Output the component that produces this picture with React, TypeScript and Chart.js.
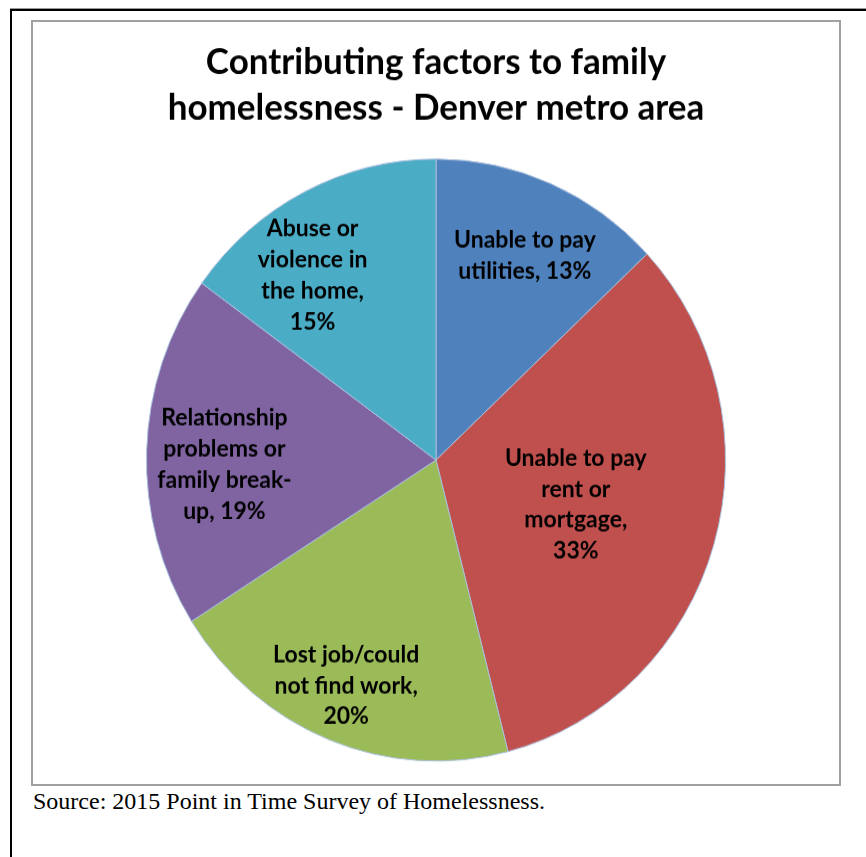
import { useEffect, useRef } from 'react';
import { Chart, registerables } from 'chart.js';

Chart.register(...registerables);

// ---- data ----
const titleLines = ['Contributing factors to family', 'homelessness - Denver metro area'];
const categories = [
  'Unable to pay utilities',
  'Unable to pay rent or mortgage',
  'Lost job/could not find work',
  'Relationship problems or family break-up',
  'Abuse or violence in the home',
];
const values = [13, 33, 20, 19, 15];
const labelLines = [
  ['Unable to pay', 'utilities, {v}%'],
  ['Unable to pay', 'rent or', 'mortgage,', '{v}%'],
  ['Lost job/could', 'not find work,', '{v}%'],
  ['Relationship', 'problems or', 'family break-', 'up, {v}%'],
  ['Abuse or', 'violence in', 'the home,', '{v}%'],
];
const sliceColors = ['#4F81BD', '#C0504D', '#9BBB59', '#8064A2', '#4BACC6'];
const sourceNote = 'Source: 2015 Point in Time Survey of Homelessness.';

// ---- label placement (fraction of radius, angular shift in degrees) ----
const labelRadius = [0.746, 0.505, 0.811, 0.731, 0.747];
const labelShift = [0.9, 0.8, 0.9, -3, -7.8];
const LABEL_FONT = 23;
const LABEL_LINE = 29.8;
const STRETCH_Y = 1.0397;

const pieLabels = {
  id: 'pieLabels',
  afterDatasetsDraw(chart: any) {
    const ctx = chart.ctx as CanvasRenderingContext2D;
    const meta = chart.getDatasetMeta(0);
    ctx.save();
    ctx.font = `bold ${LABEL_FONT}px Lato`;
    ctx.fillStyle = '#000';
    ctx.textAlign = 'center';
    ctx.textBaseline = 'middle';
    meta.data.forEach((arc: any, i: number) => {
      const { x, y, startAngle, endAngle, outerRadius } = arc.getProps(
        ['x', 'y', 'startAngle', 'endAngle', 'outerRadius'],
        true
      );
      const a = (startAngle + endAngle) / 2 + (labelShift[i] * Math.PI) / 180;
      const r = outerRadius * labelRadius[i];
      const cx = x + Math.cos(a) * r;
      const cy = y + Math.sin(a) * r;
      const lines = labelLines[i].map((l) => l.replace('{v}', String(values[i])));
      lines.forEach((l, j) => {
        ctx.fillText(l, cx, cy + (j - (lines.length - 1) / 2) * LABEL_LINE);
      });
    });
    ctx.restore();
  },
};

export default function App() {
  const canvasRef = useRef<HTMLCanvasElement | null>(null);

  useEffect(() => {
    if (!canvasRef.current) return;
    const chart = new Chart(canvasRef.current, {
      type: 'pie',
      data: {
        labels: categories,
        datasets: [
          {
            data: values,
            backgroundColor: sliceColors,
            borderColor: '#a9bfdc',
            borderWidth: 1,
            hoverOffset: 0,
            offset: 0,
          },
        ],
      },
      options: {
        responsive: true,
        maintainAspectRatio: false,
        animation: false,
        events: [],
        layout: { padding: { top: 0, bottom: 21.7, left: 0, right: 0 } },
        plugins: {
          legend: { display: false },
          tooltip: { enabled: false },
          title: {
            display: true,
            text: titleLines,
            color: '#000',
            font: { family: 'Lato', weight: 'bold', size: 35, lineHeight: 1.257 },
            padding: { top: 16.5, bottom: 26.8 },
          },
        },
      },
      plugins: [pieLabels],
    } as any);
    return () => chart.destroy();
  }, []);

  return (
    <div
      style={{
        position: 'absolute',
        left: 0,
        top: 0,
        width: 866,
        height: 857,
        overflow: 'hidden',
        background: '#fff',
      }}
    >
      <div style={{ position: 'absolute', left: 10, top: 8, width: 900, height: 1, background: '#999' }} />
      <div
        style={{
          position: 'absolute',
          left: 10,
          top: 9,
          width: 900,
          height: 900,
          borderLeft: '2px solid #000',
          borderTop: '2px solid #000',
        }}
      />
      <div
        style={{
          position: 'absolute',
          left: 31,
          top: 20,
          width: 810,
          height: 766,
          boxSizing: 'border-box',
          border: '2px solid #a0a0a0',
          background: '#fff',
        }}
      />
      <div
        style={{
          position: 'absolute',
          left: 33,
          top: 22,
          width: 806,
          height: 733,
          transform: `scaleY(${STRETCH_Y})`,
          transformOrigin: 'top left',
        }}
      >
        <canvas ref={canvasRef} />
      </div>
      <div
        style={{
          position: 'absolute',
          left: 33,
          top: 789,
          fontFamily: "'Liberation Serif', 'Times New Roman', serif",
          fontSize: 24,
          lineHeight: '24px',
          whiteSpace: 'nowrap',
          color: '#000',
        }}
      >
        {sourceNote}
      </div>
    </div>
  );
}
